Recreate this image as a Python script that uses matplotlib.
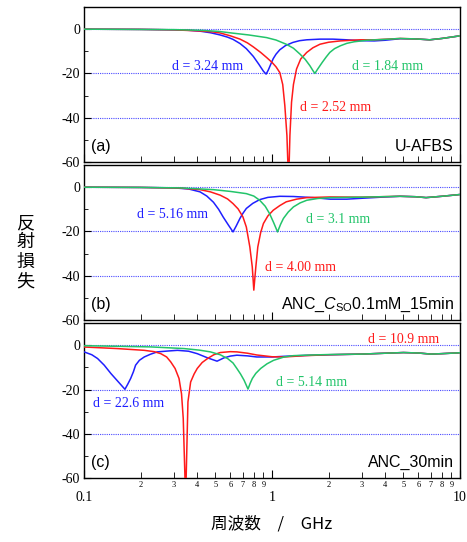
import numpy as np
import matplotlib
matplotlib.use('Agg')
import matplotlib.pyplot as plt
from matplotlib import ticker

# colours
BLUE = '#1f1fff'
RED = '#ff1a1a'
GREEN = '#22c46a'
GRID = '#4a4aff'

plt.rcParams['font.family'] = 'Liberation Serif'
plt.rcParams['axes.unicode_minus'] = False
plt.rcParams['mathtext.fontset'] = 'custom'
plt.rcParams['mathtext.rm'] = 'Liberation Sans'
plt.rcParams['mathtext.it'] = 'Liberation Sans:italic'

# ===== panel (a): U-AFBS =====
fa_blue = [0.1, 0.2, 0.3, 0.36, 0.414, 0.47, 0.529, 0.58, 0.62, 0.676, 0.73, 0.795, 0.85, 0.9, 0.93,
           0.955, 0.985, 1.015, 1.05, 1.10, 1.18, 1.29, 1.4, 1.53, 1.8, 2.11, 2.5, 2.94, 3.5, 4.0,
           4.8, 5.8, 6.9, 8, 10]
la_blue = [0, -0.1, -0.3, -0.5, -0.9, -1.6, -2.6, -3.6, -4.6, -6.5, -8.8, -12.3, -15.8, -19, -20.3,
           -18.5, -15.8, -13.3, -11.3, -9.3, -7.4, -6.0, -5.2, -4.8, -4.5, -4.5, -4.8, -5.2, -5.3, -5.0,
           -4.3, -4.4, -4.8, -4.2, -3.0]
fa_red = [0.1, 0.2, 0.3, 0.414, 0.48, 0.529, 0.6, 0.676, 0.74, 0.795, 0.87, 0.936, 1.0, 1.05, 1.10,
          1.14, 1.17, 1.20, 1.225, 1.245, 1.27, 1.30, 1.35, 1.42, 1.53, 1.65, 1.80, 2.0, 2.31, 2.94,
          3.5, 4.8, 5.8, 6.9, 8, 10]
la_red = [0, -0.1, -0.3, -0.8, -1.2, -1.7, -3.0, -4.5, -6.2, -8.0, -10.5, -12.8, -15, -17, -19.6,
          -25, -34.6, -48, -70, -48, -33, -25, -18, -13.5, -10.5, -8.4, -6.8, -5.9, -5.3, -4.8,
          -4.8, -4.2, -4.4, -4.8, -4.2, -3.0]
fa_green = [0.1, 0.3, 0.414, 0.52, 0.62, 0.75, 0.935, 1.05, 1.19, 1.3, 1.41, 1.5, 1.59, 1.65, 1.69,
            1.75, 1.85, 1.94, 2.03, 2.15, 2.31, 2.5, 2.73, 3.2, 4.0, 4.8, 5.8, 6.9, 8, 10]
la_green = [0, -0.2, -0.5, -1.0, -1.8, -2.6, -3.8, -4.9, -6.8, -8.6, -11.3, -13.6, -16.5, -18.7, -20,
            -18, -15, -12.6, -10.5, -8.8, -7.5, -6.4, -5.7, -5.0, -4.6, -4.2, -4.4, -4.8, -4.2, -3.0]

# ===== panel (b): ANC_Cso 0.1mM 15min =====
fb_blue = [0.1, 0.2, 0.3, 0.36, 0.414, 0.45, 0.488, 0.52, 0.55, 0.585, 0.62, 0.645, 0.675, 0.70,
           0.73, 0.79, 0.86, 0.95, 1.10, 1.3, 1.65, 2.04, 2.5, 3.0, 4.0, 4.8, 5.8, 6.6, 8, 10]
lb_blue = [0, -0.1, -0.3, -0.8, -2.1, -4, -6.8, -10, -13.5, -17, -20.2, -17.5, -14.1, -11.8,
           -9.6, -7.3, -5.6, -4.6, -4.1, -4.2, -4.7, -5.4, -5.4, -5.0, -4.4, -4.1, -4.3, -4.7, -4.1, -3.3]
fb_red = [0.1, 0.2, 0.324, 0.414, 0.47, 0.53, 0.58, 0.62, 0.66, 0.70, 0.73, 0.762, 0.785, 0.80,
          0.82, 0.84, 0.87, 0.90, 0.95, 1.015, 1.1, 1.19, 1.35, 1.53, 2.04, 3.0, 4.8, 5.8, 6.6, 8, 10]
lb_red = [0, -0.1, -0.4, -1.1, -2.1, -3.6, -5.3, -7.4, -9.8, -13.4, -18, -27, -36, -46.5,
          -36, -27, -20.5, -16.4, -13, -10.4, -8.3, -6.6, -5.4, -4.7, -4.4, -4.5, -4.1, -4.3, -4.7, -4.1, -3.3]
fb_green = [0.1, 0.2, 0.324, 0.488, 0.6, 0.73, 0.8, 0.86, 0.92, 0.97, 1.02, 1.07, 1.11, 1.15,
            1.22, 1.30, 1.41, 1.53, 1.75, 2.04, 3.0, 4.8, 5.8, 6.6, 8, 10]
lb_green = [0, -0.1, -0.3, -1.1, -1.9, -2.9, -4.0, -5.9, -8.6, -11.9, -16, -20.2, -16.8, -14.1,
            -11.2, -8.9, -7.1, -5.9, -5.1, -4.7, -4.5, -4.1, -4.3, -4.7, -4.1, -3.3]

# ===== panel (c): ANC_30min =====
fc_blue = [0.1, 0.11, 0.118, 0.128, 0.139, 0.152, 0.165, 0.171, 0.177, 0.183, 0.188, 0.197, 0.209,
           0.225, 0.245, 0.28, 0.314, 0.36, 0.40, 0.454, 0.51, 0.555, 0.60, 0.65, 0.74, 0.83, 1.0,
           1.16, 1.5, 2.0, 3.0, 4.0, 5.0, 6.0, 7.0, 8.0, 10]
lc_blue = [-3.0, -4.3, -6.0, -9, -12.8, -16.5, -19.9, -17.5, -15, -12, -9.0, -6.8, -5.3,
           -4.1, -3.0, -2.6, -2.3, -2.7, -3.8, -5.7, -7.2, -5.7, -4.9, -4.5, -4.8, -5.3, -5.3,
           -5.0, -4.6, -4.3, -4.0, -3.6, -3.3, -3.5, -4.0, -3.8, -3.4]
fc_red = [0.1, 0.15, 0.209, 0.236, 0.256, 0.275, 0.289, 0.305, 0.32, 0.33, 0.337, 0.347, 0.357,
          0.369, 0.385, 0.40, 0.425, 0.454, 0.49, 0.53, 0.6, 0.65, 0.74, 0.83, 1.0, 1.16, 1.5,
          2.0, 3.0, 4.0, 5.0, 6.0, 7.0, 8.0, 10]
lc_red = [-0.8, -1.5, -2.3, -2.9, -3.8, -5.3, -7.5, -10.5, -15, -22, -33, -70, -25.6,
          -16.6, -13, -10.5, -7.8, -6.0, -4.3, -3.3, -2.9, -3.0, -3.6, -4.4, -5.2, -5.3, -4.7,
          -4.3, -4.0, -3.6, -3.3, -3.5, -4.0, -3.8, -3.4]
fc_green = [0.1, 0.226, 0.34, 0.41, 0.47, 0.53, 0.58, 0.62, 0.65, 0.68, 0.71, 0.745, 0.765, 0.786,
            0.82, 0.87, 0.94, 1.02, 1.16, 1.3, 1.5, 2.0, 3.0, 4.0, 5.0, 6.0, 7.0, 8.0, 10]
lc_green = [-0.2, -0.75, -1.5, -2.2, -3.0, -4.3, -6.0, -8.0, -10.5, -13, -15.8, -19.8, -17.2, -15,
            -12.7, -10.5, -8.4, -6.8, -5.3, -4.7, -4.5, -4.2, -4.0, -3.6, -3.3, -3.5, -4.0, -3.8, -3.4]

panels = [
    ('(a)', 'U-AFBS',
     [(fa_blue, la_blue, BLUE), (fa_red, la_red, RED), (fa_green, la_green, GREEN)],
     [('d = 3.24 mm', 0.294, -16.7, BLUE), ('d = 1.84 mm', 2.66, -16.7, GREEN),
      ('d = 2.52 mm', 1.41, -35.2, RED)]),
    ('(b)', r'ANC_$C_{\rm SO}$0.1mM_15min',
     [(fb_blue, lb_blue, BLUE), (fb_red, lb_red, RED), (fb_green, lb_green, GREEN)],
     [('d = 5.16 mm', 0.191, -12.2, BLUE), ('d = 3.1 mm', 1.52, -14.4, GREEN),
      ('d = 4.00 mm', 0.918, -36.5, RED)]),
    ('(c)', 'ANC_30min',
     [(fc_blue, lc_blue, BLUE), (fc_red, lc_red, RED), (fc_green, lc_green, GREEN)],
     [('d = 10.9 mm', 3.24, 2.7, RED), ('d = 5.14 mm', 1.05, -16.7, GREEN),
      ('d = 22.6 mm', 0.1117, -26.2, BLUE)]),
]

fig, axes = plt.subplots(3, 1, figsize=(4.67, 5.42), dpi=100, sharex=True)
fig.subplots_adjust(left=0.180, right=0.985, top=0.987, bottom=0.118, hspace=0.02)

def minor_label(x, pos):
    return str(int(round(x / 10 ** np.floor(np.log10(x) + 1e-9))))

for ax, (tag, name, curves, notes) in zip(axes, panels):
    for y in [0, -20, -40]:
        ax.axhline(y, color=GRID, lw=0.8, ls=(0, (1, 1)), zorder=1)
    for f, v, c in curves:
        ax.plot(f, v, color=c, lw=1.1, zorder=3)
    for txt, x, y, c in notes:
        ax.text(x, y, txt, color=c, fontsize=10, ha='left', va='center')
    ax.text(0.019, 0.10, tag, transform=ax.transAxes, fontsize=11.5,
            family='Liberation Sans', ha='left', va='center')
    ax.text(0.984, 0.10, name, transform=ax.transAxes, fontsize=11.5,
            family='Liberation Sans', ha='right', va='center')

    ax.set_xscale('log')
    ax.set_xlim(0.1, 10)
    ax.set_ylim(-60, 10)
    ax.set_yticks([0, -20, -40, -60])
    ax.yaxis.set_minor_locator(ticker.FixedLocator([-10, -30, -50]))
    ax.tick_params(axis='y', which='both', direction='in', labelsize=10, pad=3,
                   right=False)
    ax.tick_params(axis='y', which='major', length=5)
    ax.tick_params(axis='y', which='minor', length=3)
    ax.tick_params(axis='x', which='both', direction='in', top=False)
    ax.tick_params(axis='x', which='major', length=6, labelsize=10, pad=9)
    ax.tick_params(axis='x', which='minor', length=4, labelsize=6, pad=2)
    for s in ax.spines.values():
        s.set_linewidth(1.0)

axes[-1].xaxis.set_major_formatter(ticker.FuncFormatter(lambda x, p: f'{x:g}'))
axes[-1].xaxis.set_minor_formatter(ticker.FuncFormatter(minor_label))
for ax in axes[:-1]:
    ax.tick_params(axis='x', which='both', labelbottom=False)

fig.text(0.054, 0.535, '反\n射\n損\n失', family='Noto Sans CJK JP', fontsize=13,
         ha='center', va='center', linespacing=1.1)
fig.text(0.582, 0.033, '周波数\u3000/\u3000GHz', family='Noto Sans CJK JP',
         fontsize=12, ha='center', va='center')

plt.savefig('out.png', dpi=100)
print("Saved: out.png")
